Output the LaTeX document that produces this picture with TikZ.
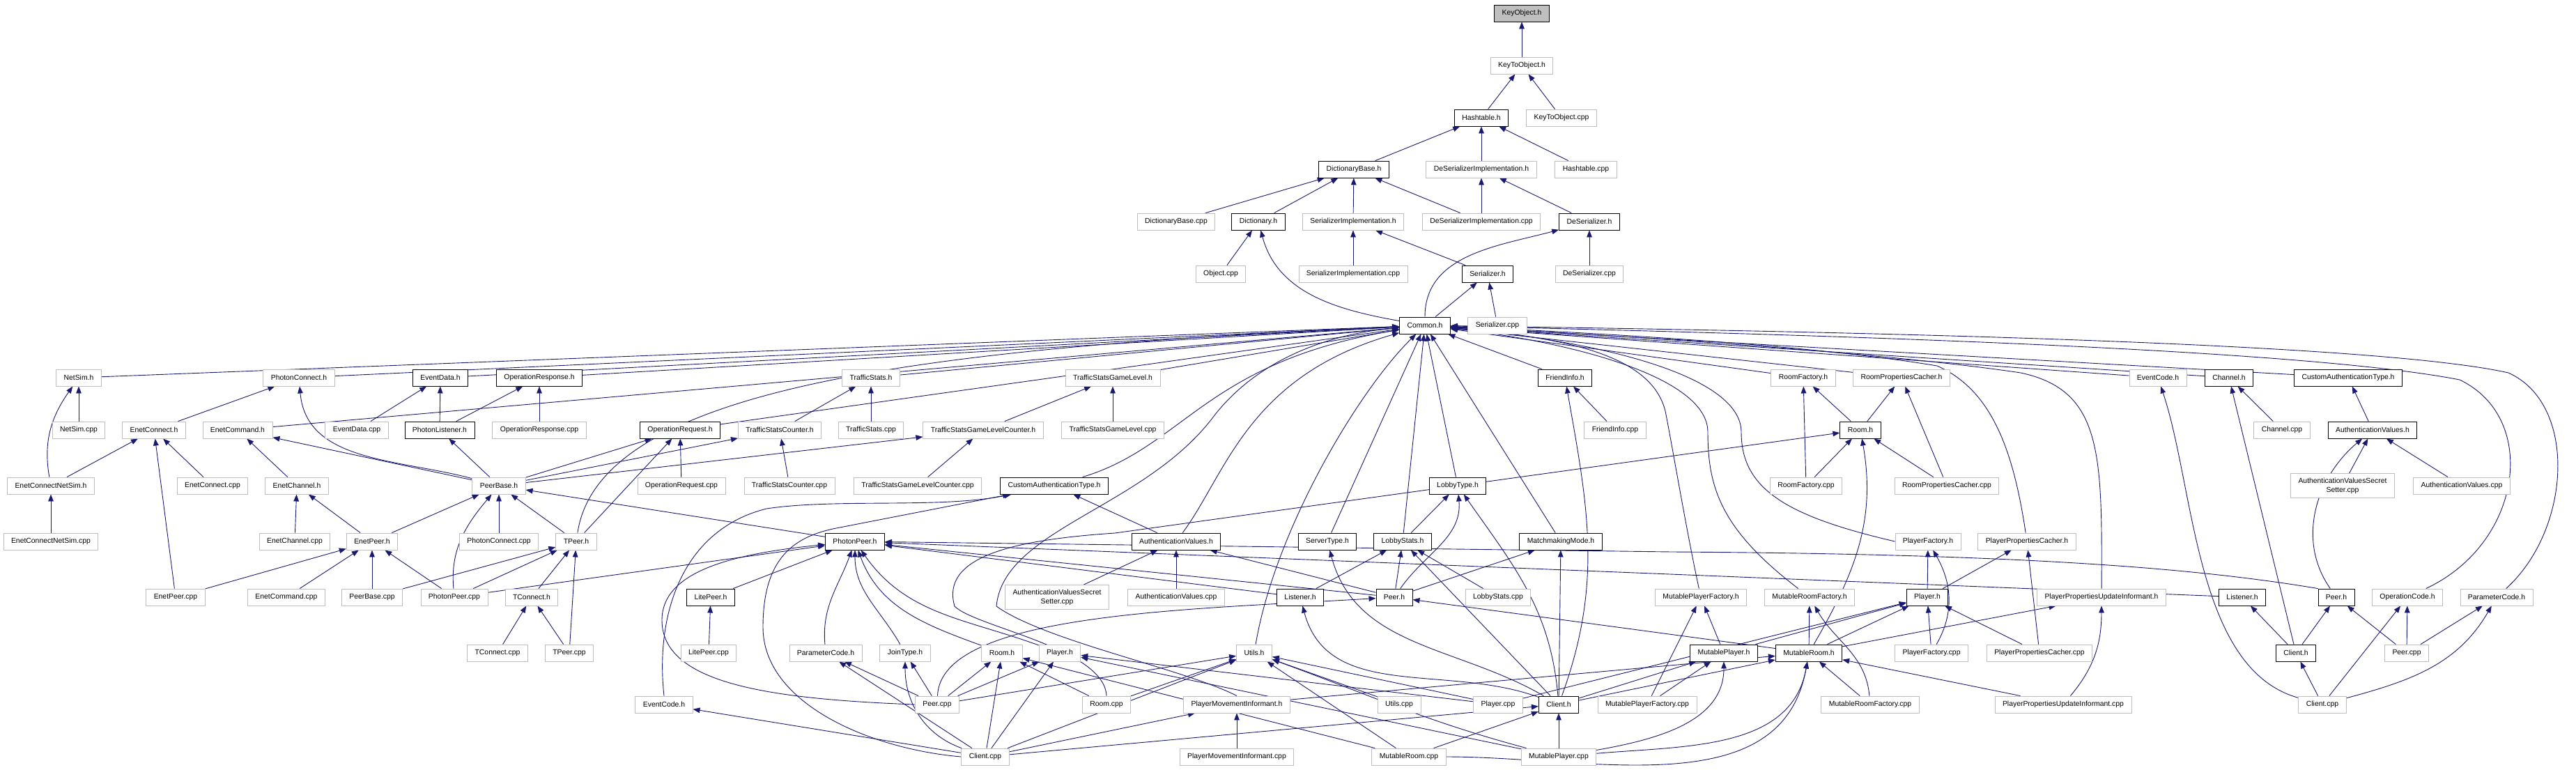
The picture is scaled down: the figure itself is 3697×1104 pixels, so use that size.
\documentclass[tikz,border=0pt]{standalone}
\usepackage{fontspec}
\setmainfont{Liberation Sans}
\usetikzlibrary{arrows.meta,backgrounds}
\definecolor{edgeblue}{HTML}{191970}
\definecolor{grey75}{gray}{0.75}
\tikzset{
  file/.style={draw=grey75, line width=0.225pt, fill=white, inner xsep=2.75pt, inner ysep=0pt,
    minimum height=6pt, align=center, font=\fontsize{2.6}{3.25}\selectfont},
  doc/.style={file, draw=black},
  root/.style={doc, fill=grey75},
  twoline/.style={inner ysep=1.5pt},
  inc/.style={edgeblue, line width=0.225pt, -{Triangle[length=2.5pt,width=1.9pt]}},
}
\begin{document}
\begin{tikzpicture}[x=0.25pt,y=0.25pt]
\useasboundingbox (0,0) rectangle (3697,-1104);
% ranks 0--6
\node[root] (keyobj) at (2184,-19) {KeyObject.h};
\node[file] (keytoobj) at (2184,-94) {KeyToObject.h};
\node[doc] (hashtable) at (2126,-169) {Hashtable.h};
\node[file] (keytoobjcpp) at (2241,-169) {KeyToObject.cpp};
\node[doc] (dictbase) at (1943,-243) {DictionaryBase.h};
\node[file] (deserimplh) at (2126,-243) {DeSerializerImplementation.h};
\node[file] (hashtablecpp) at (2276,-243) {Hashtable.cpp};
\node[file] (dictbasecpp) at (1688,-318) {DictionaryBase.cpp};
\node[doc] (dict) at (1806,-318) {Dictionary.h};
\node[file] (serimplh) at (1942,-318) {SerializerImplementation.h};
\node[file] (deserimplcpp) at (2126,-318) {DeSerializerImplementation.cpp};
\node[doc] (deserh) at (2281,-318) {DeSerializer.h};
\node[file] (objectcpp) at (1752,-393) {Object.cpp};
\node[file] (serimplcpp) at (1942,-393) {SerializerImplementation.cpp};
\node[doc] (serh) at (2135,-393) {Serializer.h};
\node[file] (desercpp) at (2281,-393) {DeSerializer.cpp};
\node[doc] (common) at (2045,-467) {Common.h};
\node[file] (sercpp) at (2149,-467) {Serializer.cpp};
% rank 7
\node[file] (netsim) at (113,-542) {NetSim.h};
\node[file] (photonconn) at (429,-542) {PhotonConnect.h};
\node[doc] (eventdata) at (632,-542) {EventData.h};
\node[doc] (opresp) at (774,-542) {OperationResponse.h};
\node[file] (tstats) at (1250,-542) {TrafficStats.h};
\node[file] (tsgl) at (1597,-542) {TrafficStatsGameLevel.h};
\node[doc] (friendinfo) at (2246,-542) {FriendInfo.h};
\node[file] (roomfact) at (2588,-542) {RoomFactory.h};
\node[file] (roompc) at (2729,-542) {RoomPropertiesCacher.h};
\node[file] (cEventCode) at (3097,-542) {EventCode.h};
\node[doc] (channel) at (3199,-542) {Channel.h};
\node[doc] (cCustAuth) at (3370,-542) {CustomAuthenticationType.h};
% rank 8
\node[file] (netsimcpp) at (113,-617) {NetSim.cpp};
\node[file] (enetconn) at (221,-617) {EnetConnect.h};
\node[file] (enetcmd) at (341,-617) {EnetCommand.h};
\node[file] (eventdatacpp) at (512,-617) {EventData.cpp};
\node[doc] (photonlist) at (631,-617) {PhotonListener.h};
\node[file] (oprespcpp) at (774,-617) {OperationResponse.cpp};
\node[doc] (opreq) at (976,-617) {OperationRequest.h};
\node[file] (tscounter) at (1119,-617) {TrafficStatsCounter.h};
\node[file] (tstatscpp) at (1250,-617) {TrafficStats.cpp};
\node[file] (tsglcounter) at (1411,-617) {TrafficStatsGameLevelCounter.h};
\node[file] (tsglcpp) at (1597,-617) {TrafficStatsGameLevel.cpp};
\node[file] (friendinfocpp) at (2318,-617) {FriendInfo.cpp};
\node[doc] (roomB) at (2670,-617) {Room.h};
\node[file] (channelcpp) at (3275,-617) {Channel.cpp};
\node[doc] (cAuthVal) at (3405,-617) {AuthenticationValues.h};
% rank 9
\node[file] (enetcns) at (73,-697) {EnetConnectNetSim.h};
\node[file] (enetconncpp) at (305,-697) {EnetConnect.cpp};
\node[file] (enetchan) at (426,-697) {EnetChannel.h};
\node[file] (peerbase) at (716,-697) {PeerBase.h};
\node[file] (opreqcpp) at (978,-697) {OperationRequest.cpp};
\node[file] (tscountercpp) at (1133,-697) {TrafficStatsCounter.cpp};
\node[file] (tsglcountercpp) at (1317,-697) {TrafficStatsGameLevelCounter.cpp};
\node[doc] (lCustAuth) at (1513,-697) {CustomAuthenticationType.h};
\node[doc] (lobbytype) at (2092,-697) {LobbyType.h};
\node[file] (roomfactcpp) at (2592,-697) {RoomFactory.cpp};
\node[file] (roompccpp) at (2794,-697) {RoomPropertiesCacher.cpp};
\node[file, twoline] (cAuthSecret) at (3362,-697) {AuthenticationValuesSecret\\Setter.cpp};
\node[file] (cAuthValcpp) at (3533,-697) {AuthenticationValues.cpp};
% rank 10
\node[file] (enetcnscpp) at (73,-777) {EnetConnectNetSim.cpp};
\node[file] (enetchancpp) at (423,-777) {EnetChannel.cpp};
\node[file] (enetpeer) at (534,-777) {EnetPeer.h};
\node[file] (photonconncpp) at (716,-777) {PhotonConnect.cpp};
\node[file] (tpeer) at (827,-777) {TPeer.h};
\node[doc] (photonpeer) at (1227,-777) {PhotonPeer.h};
\node[doc] (lAuthVal) at (1688,-777) {AuthenticationValues.h};
\node[doc] (servertype) at (1905,-777) {ServerType.h};
\node[doc] (lobbystats) at (2013,-777) {LobbyStats.h};
\node[doc] (matchmaking) at (2240,-777) {MatchmakingMode.h};
\node[file] (playerfact) at (2767,-777) {PlayerFactory.h};
\node[file] (playerpc) at (2909,-777) {PlayerPropertiesCacher.h};
% rank 11
\node[file] (enetpeercpp) at (252,-857) {EnetPeer.cpp};
\node[file] (enetcmdcpp) at (411,-857) {EnetCommand.cpp};
\node[file] (peerbasecpp) at (534,-857) {PeerBase.cpp};
\node[file] (photonpeercpp) at (652,-857) {PhotonPeer.cpp};
\node[file] (tconn) at (763,-857) {TConnect.h};
\node[doc] (litepeer) at (1020,-857) {LitePeer.h};
\node[file, twoline] (lAuthSecret) at (1517,-857) {AuthenticationValuesSecret\\Setter.cpp};
\node[file] (lAuthValcpp) at (1688,-857) {AuthenticationValues.cpp};
\node[doc] (lListener) at (1866,-857) {Listener.h};
\node[doc] (lPeer) at (2001,-857) {Peer.h};
\node[file] (lobbystatscpp) at (2150,-857) {LobbyStats.cpp};
\node[file] (mplayerfact) at (2441,-857) {MutablePlayerFactory.h};
\node[file] (mroomfact) at (2597,-857) {MutableRoomFactory.h};
\node[doc] (playerB) at (2766,-857) {Player.h};
\node[file] (ppui) at (3016,-857) {PlayerPropertiesUpdateInformant.h};
\node[doc] (cListener) at (3218,-857) {Listener.h};
\node[doc] (cPeer) at (3353,-857) {Peer.h};
\node[file] (cOpCode) at (3455,-857) {OperationCode.h};
\node[file] (cParamCode) at (3583,-857) {ParameterCode.h};
% rank 12
\node[file] (tconncpp) at (714,-937) {TConnect.cpp};
\node[file] (tpeercpp) at (817,-937) {TPeer.cpp};
\node[file] (litepeercpp) at (1017,-937) {LitePeer.cpp};
\node[file] (lParamCode) at (1185,-937) {ParameterCode.h};
\node[file] (jointype) at (1299,-937) {JoinType.h};
\node[file] (roomG) at (1438,-937) {Room.h};
\node[file] (playerG) at (1521,-937) {Player.h};
\node[file] (utils) at (1800,-937) {Utils.h};
\node[doc] (mplayer) at (2474,-937) {MutablePlayer.h};
\node[doc] (mroom) at (2596,-937) {MutableRoom.h};
\node[file] (playerfactcpp) at (2772,-937) {PlayerFactory.cpp};
\node[file] (playerpccpp) at (2927,-937) {PlayerPropertiesCacher.cpp};
\node[doc] (cClient) at (3295,-937) {Client.h};
\node[file] (cPeercpp) at (3454,-937) {Peer.cpp};
% rank 13
\node[file] (lEventCode) at (953,-1011) {EventCode.h};
\node[file] (lPeercpp) at (1345,-1011) {Peer.cpp};
\node[file] (roomcpp) at (1588,-1011) {Room.cpp};
\node[file] (pmi) at (1775,-1011) {PlayerMovementInformant.h};
\node[file] (utilscpp) at (2008,-1011) {Utils.cpp};
\node[file] (playercpp) at (2150,-1011) {Player.cpp};
\node[doc] (lClient) at (2237,-1011) {Client.h};
\node[file] (mplayerfactcpp) at (2364,-1011) {MutablePlayerFactory.cpp};
\node[file] (mroomfactcpp) at (2684,-1011) {MutableRoomFactory.cpp};
\node[file] (ppuicpp) at (2961,-1011) {PlayerPropertiesUpdateInformant.cpp};
\node[file] (cClientcpp) at (3333,-1011) {Client.cpp};
% rank 14
\node[file] (lClientcpp) at (1414,-1086) {Client.cpp};
\node[file] (pmicpp) at (1775,-1086) {PlayerMovementInformant.cpp};
\node[file] (mroomcpp) at (2022,-1086) {MutableRoom.cpp};
\node[file] (mplayercpp) at (2237,-1086) {MutablePlayer.cpp};

\begin{pgfonlayer}{background}
% straight includes
\foreach \a/\b in {keytoobj/keyobj, hashtable/keytoobj, keytoobjcpp/keytoobj, dictbase/hashtable,
  deserimplh/hashtable, hashtablecpp/hashtable, dictbasecpp/dictbase, dict/dictbase, serimplh/dictbase,
  deserimplcpp/dictbase, deserimplcpp/deserimplh, deserh/deserimplh, objectcpp/dict, serimplcpp/serimplh,
  serh/serimplh, desercpp/deserh, common/serh, sercpp/serh,
  netsim/common, photonconn/common, enetcmd/common, eventdata/common, opresp/common, tstats/common,
  tsgl/common, opreq/common, servertype/common, lobbystats/common, lobbytype/common, matchmaking/common,
  friendinfo/common, roomfact/common, roompc/common, cEventCode/common, channel/common, cCustAuth/common,
  netsimcpp/netsim, enetconn/photonconn, enetcns/enetconn, enetcnscpp/enetcns, enetconncpp/enetconn,
  enetchan/enetcmd, enetchancpp/enetchan, enetpeer/enetchan, enetpeer/peerbase, enetpeercpp/enetconn,
  enetpeercpp/enetpeer, enetcmdcpp/enetpeer, peerbasecpp/enetpeer, peerbasecpp/tpeer, photonpeercpp/enetpeer,
  photonpeercpp/tpeer, photonpeercpp/photonpeer, photonconncpp/peerbase, tpeer/peerbase, tpeer/opreq,
  tconn/tpeer, tconncpp/tconn, tpeercpp/tconn, tpeercpp/tpeer, peerbase/enetcmd, peerbase/photonlist,
  peerbase/opreq, peerbase/tscounter, peerbase/tsglcounter, photonlist/eventdata, photonlist/opresp,
  eventdatacpp/eventdata, oprespcpp/opresp, opreqcpp/opreq, tscounter/tstats, tscountercpp/tscounter,
  tstatscpp/tstats, tsglcounter/tsgl, tsglcountercpp/tsglcounter, tsglcpp/tsgl, photonpeer/peerbase,
  litepeer/photonpeer, litepeercpp/litepeer,
  lAuthVal/lCustAuth, lAuthSecret/lAuthVal, lAuthValcpp/lAuthVal, lPeer/lAuthVal, lPeer/photonpeer,
  lPeer/lobbystats, lPeer/matchmaking, lListener/lobbystats, lListener/photonpeer, cListener/photonpeer,
  lClient/lobbystats, lClient/matchmaking, lClient/mplayer, lClient/mroom, mroom/lPeer, mroom/playerB,
  mroom/mroomfact, mroom/ppui, mplayer/playerB, mplayer/mplayerfact, mplayerfactcpp/mplayerfact,
  mplayerfactcpp/mplayer, mroomfactcpp/mroom, ppuicpp/mroom, playerfactcpp/playerB, playerpccpp/playerB,
  playerpccpp/playerpc, playerB/playerfact, playerB/playerpc, roomfactcpp/roomfact, roomfactcpp/roomB,
  roompccpp/roompc, roompccpp/roomB, roomB/roomfact, roomB/roompc, friendinfocpp/friendinfo,
  lobbystatscpp/lobbystats, lobbystats/lobbytype, playercpp/playerB, playercpp/utils, playercpp/playerG,
  utilscpp/utils, mroomcpp/utils, mroomcpp/lClient, mroomcpp/roomG, mplayercpp/lClient,
  mplayercpp/playerG, pmi/mroom, pmicpp/pmi, lPeercpp/lParamCode, lPeercpp/jointype, lPeercpp/roomG,
  lPeercpp/playerG, lPeercpp/utils, lClientcpp/lParamCode, lClientcpp/roomG, lClientcpp/playerG,
  lClientcpp/utils, lClientcpp/pmi, lClientcpp/lClient, lClientcpp/lEventCode, roomcpp/roomG, roomcpp/utils,
  cAuthVal/cCustAuth, cAuthSecret/cAuthVal, cAuthValcpp/cAuthVal, channelcpp/channel, cClient/channel,
  cClient/cListener, cClient/cPeer, cPeercpp/cPeer, cPeercpp/cOpCode, cPeercpp/cParamCode,
  cClientcpp/cClient, cClientcpp/cOpCode}
  \draw[inc] (\a) -- (\b);
% curved includes, top part
\draw[inc] (common) to[out=170,in=-75] (dict);
\draw[inc] (common) to[out=90,in=195] (deserh);
% curves into Common.h from the left and below
\draw[inc] (tpeer) .. controls (860,-560) and (1300,-500) .. (common);
\draw[inc] (lCustAuth) .. controls (1700,-640) and (1730,-520) .. (common);
\draw[inc] (lAuthVal) .. controls (1760,-680) and (1790,-540) .. (common);
\draw[inc] (utils) .. controls (1830,-760) and (1950,-560) .. (common);
\draw[inc] (pmi.north) .. controls (1700,-960) and (1500,-920) .. (1430,-870)
  .. controls (1440,-760) and (1640,-730) .. (1740,-600) .. controls (1800,-520) and (1900,-480) .. (common);
% curves into Common.h from the right
\draw[inc] (mplayerfact) .. controls (2420,-760) and (2400,-640) .. (2390,-590)
  .. controls (2370,-510) and (2250,-485) .. (common);
\draw[inc] (mroomfact) .. controls (2470,-760) and (2451,-700) .. (2451,-620)
  .. controls (2451,-540) and (2250,-490) .. (common);
\draw[inc] (playerfact.west) .. controls (2560,-740) and (2499,-700) .. (2499,-620)
  .. controls (2499,-540) and (2300,-490) .. (common);
\draw[inc] (playerpc) .. controls (2890,-650) and (2860,-560) .. (2780,-525)
  .. controls (2600,-495) and (2300,-478) .. (common);
\draw[inc] (ppui) .. controls (3017,-650) and (3017,-560) .. (2900,-535)
  .. controls (2700,-505) and (2300,-480) .. (common);
\draw[inc] (cOpCode) .. controls (3620,-780) and (3645,-600) .. (3530,-545)
  .. controls (3300,-500) and (2600,-480) .. (common);
\draw[inc] (cParamCode) .. controls (3690,-760) and (3700,-580) .. (3600,-535)
  .. controls (3400,-490) and (2600,-475) .. (common);
% Photon cluster
\draw[inc] (enetcns) to[out=100,in=-125] (netsim);
\draw[inc] (peerbase) to[out=165,in=-85] (photonconn);
\draw[inc] (photonpeercpp) to[out=95,in=-130] (peerbase);
% LoadBalancing cluster
\draw[inc] (lPeer) to[out=55,in=-85] (lobbytype);
\draw[inc] (lClient) to[out=95,in=-55] (lobbytype);
\draw[inc] (lClient) to[out=150,in=-75] (servertype);
\draw[inc] (lClient) to[out=160,in=-75] (lListener);
\draw[inc] (lClient) to[out=70,in=-80] (friendinfo);
\draw[inc] (mroom) to[out=60,in=-80] (roomB);
\draw[inc] (roomcpp.north) .. controls (1585,-930) and (1400,-900) .. (1370,-870)
  .. controls (1350,-800) and (1450,-775) .. (1600,-765) -- (roomB);
\draw[inc] (playerfactcpp) to[out=60,in=-60] (playerfact);
\draw[inc] (ppuicpp) to[out=50,in=-90] (ppui);
\draw[inc] (mroomfactcpp) to[out=95,in=-60] (mroomfact);
\draw[inc] (lPeercpp) .. controls (1350,-880) and (1700,-875) .. (lPeer);
\draw[inc] (lPeercpp.west) .. controls (1100,-1003) and (950,-980) .. (950,-890)
  .. controls (950,-820) and (1050,-795) .. (photonpeer);
\draw[inc] (lEventCode.north) .. controls (940,-880) and (980,-760) .. (1100,-730)
  .. controls (1200,-715) and (1350,-730) .. (lCustAuth);
\draw[inc] (lClientcpp.west) .. controls (1250,-1075) and (1095,-1010) .. (1095,-900)
  .. controls (1095,-800) and (1140,-770) .. (1200,-758) -- (lCustAuth);
\draw[inc] (lClientcpp) to[out=160,in=-90] (jointype);
\draw[inc] (lParamCode) to[out=95,in=-110] (photonpeer);
\draw[inc] (jointype) to[out=120,in=-90] (photonpeer);
\draw[inc] (roomG) to[out=160,in=-70] (photonpeer);
\draw[inc] (playerG) to[out=160,in=-55] (photonpeer);
\draw[inc] (mroomcpp) to[out=0,in=-100] (mroom);
\draw[inc] (mplayercpp) to[out=10,in=-90] (mplayer);
\draw[inc] (mplayercpp) to[out=5,in=-100] (mroom);
\draw[inc] (mplayercpp) to[out=165,in=-20] (utils);
% Chat cluster
\draw[inc] (cPeer) to[out=125,in=220] (cAuthVal);
\draw[inc] (cPeer.north west) .. controls (3150,-815) and (2900,-795) .. (2400,-792) -- (photonpeer);
\draw[inc] (cClientcpp) to[out=15,in=-120] (cParamCode);
\draw[inc] (cClientcpp) .. controls (3150,-960) and (3150,-700) .. (cEventCode);
\end{pgfonlayer}
\end{tikzpicture}
\end{document}
